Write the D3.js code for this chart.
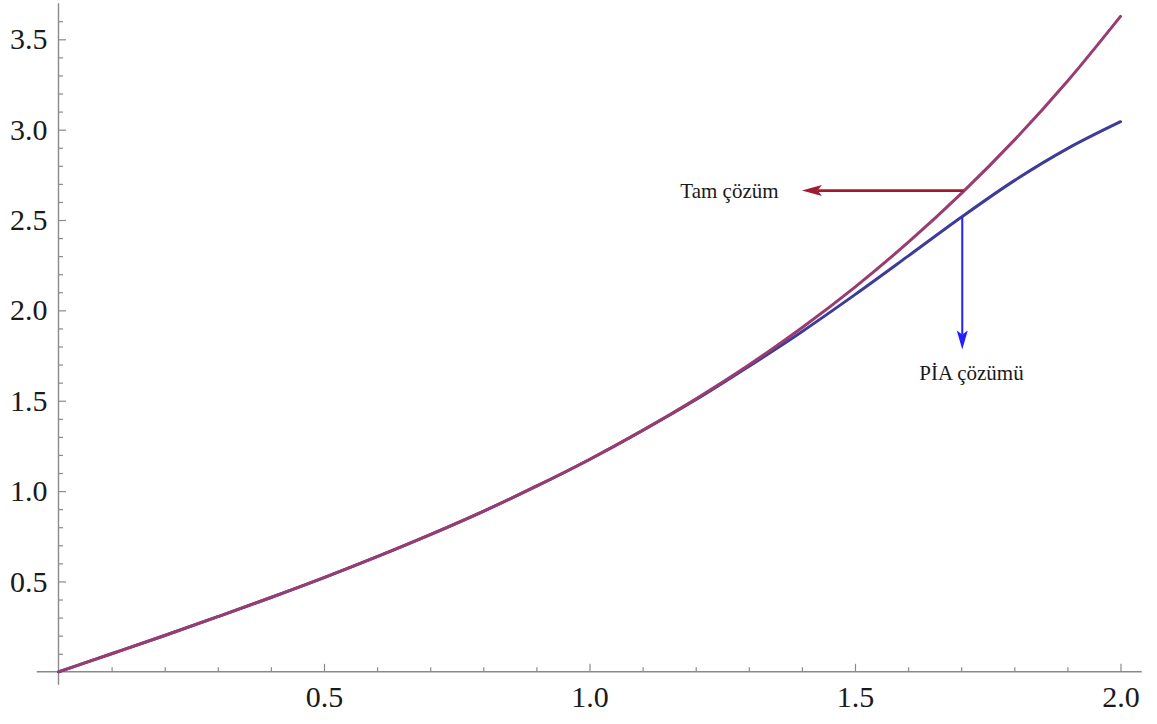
<!DOCTYPE html>
<html>
<head>
<meta charset="utf-8">
<script src="https://cdn.jsdelivr.net/npm/d3@7"></script>
<style>
  html, body { margin: 0; padding: 0; background: #fff; }
  svg { display: block; }
  text { font-family: "Liberation Serif", "Times New Roman", serif; }
</style>
</head>
<body>
<svg id="chart" width="1157" height="724"></svg>
<script>
// ---- data ----
const xValues   = [0, 0.1, 0.2, 0.3, 0.4, 0.5, 0.6, 0.7, 0.8, 0.9, 1.0, 1.1, 1.2, 1.3, 1.4, 1.5, 1.6, 1.7, 1.8, 1.9, 2.0];
const tamValues = [0, 0.100, 0.201, 0.305, 0.411, 0.521, 0.637, 0.759, 0.888, 1.027, 1.175, 1.336, 1.510, 1.698, 1.904, 2.129, 2.376, 2.646, 2.942, 3.268, 3.627];
const piaValues = [0, 0.100, 0.201, 0.305, 0.411, 0.521, 0.637, 0.759, 0.888, 1.027, 1.175, 1.335, 1.505, 1.690, 1.882, 2.087, 2.300, 2.515, 2.718, 2.895, 3.044];
const xMajorTicks = [0.5, 1.0, 1.5, 2.0];
const yMajorTicks = [0.5, 1.0, 1.5, 2.0, 2.5, 3.0, 3.5];
const xMinorTicks = [0.1, 0.2, 0.3, 0.4, 0.6, 0.7, 0.8, 0.9, 1.1, 1.2, 1.3, 1.4, 1.6, 1.7, 1.8, 1.9];
const yMinorTicks = [0.1, 0.2, 0.3, 0.4, 0.6, 0.7, 0.8, 0.9, 1.1, 1.2, 1.3, 1.4, 1.6, 1.7, 1.8, 1.9, 2.1, 2.2, 2.3, 2.4, 2.6, 2.7, 2.8, 2.9, 3.1, 3.2, 3.3, 3.4, 3.6];
const xAxisExtent = [-0.041, 2.04];
const yAxisExtent = [-0.072, 3.70];
// annotations: [label, arrow start x, start y, arrow tip x, tip y, label x, label y]
const tamLabel = ["Tam çözüm", 1.705, 2.663, 1.400, 2.663, 1.171, 2.621];
const piaLabel = ["PİA çözümü", 1.702, 2.516, 1.702, 1.784, 1.621, 1.615];

// ---- scales ----
const x = d3.scaleLinear().domain([0, 2]).range([58.5, 1120.5]);
const y = d3.scaleLinear().domain([0, 3.5]).range([671.8, 39.3]);

const svg = d3.select("#chart");
svg.append("rect").attr("width", 1157).attr("height", 724).attr("fill", "#fff");

const axisColor = "#8a8a8a";

// axis lines
svg.append("line")
  .attr("x1", x(xAxisExtent[0])).attr("x2", x(xAxisExtent[1]))
  .attr("y1", y(0)).attr("y2", y(0))
  .attr("stroke", axisColor).attr("stroke-width", 1.4);
svg.append("line")
  .attr("x1", x(0)).attr("x2", x(0))
  .attr("y1", y(yAxisExtent[0])).attr("y2", y(yAxisExtent[1]))
  .attr("stroke", axisColor).attr("stroke-width", 1.4);

// x axis (ticks pointing up)
const gxMinor = svg.append("g").attr("transform", `translate(0,${y(0)})`)
  .call(d3.axisBottom(x).tickValues(xMinorTicks).tickSize(-4.5).tickFormat(""));
const gxMajor = svg.append("g").attr("transform", `translate(0,${y(0)})`)
  .call(d3.axisBottom(x).tickValues(xMajorTicks).tickSize(-8).tickPadding(14).tickFormat(d3.format(".1f")));
// y axis (ticks pointing right)
const gyMinor = svg.append("g").attr("transform", `translate(${x(0)},0)`)
  .call(d3.axisLeft(y).tickValues(yMinorTicks).tickSize(-4.5).tickFormat(""));
const gyMajor = svg.append("g").attr("transform", `translate(${x(0)},0)`)
  .call(d3.axisLeft(y).tickValues(yMajorTicks).tickSize(-7.5).tickPadding(11).tickFormat(d3.format(".1f")));

[gxMinor, gxMajor, gyMinor, gyMajor].forEach(g => {
  g.select(".domain").remove();
  g.selectAll(".tick line").attr("stroke", axisColor).attr("stroke-width", 1.2);
  g.selectAll(".tick text")
    .attr("fill", "#1a1a1a")
    .style("font-family", '"Liberation Serif", "Times New Roman", serif')
    .style("font-size", "30px");
});
gxMajor.selectAll(".tick text").attr("dy", "0.71em");

// ---- curves ----
const line = d3.line().x(d => x(d[0])).y(d => y(d[1])).curve(d3.curveCatmullRom.alpha(0.5));
const piaData = xValues.map((v, i) => [v, piaValues[i]]);
const tamData = xValues.map((v, i) => [v, tamValues[i]]);

svg.append("path").datum(piaData).attr("d", line)
  .attr("fill", "none").attr("stroke", "#3d3d99").attr("stroke-width", 3).attr("stroke-linecap", "round");
svg.append("path").datum(tamData).attr("d", line)
  .attr("fill", "none").attr("stroke", "#993d71").attr("stroke-width", 3).attr("stroke-linecap", "round");

// ---- annotations ----
function arrow(spec, color, width, headLen, headHalf) {
  const [label, sx, sy, tx, ty, lx, ly] = spec;
  const x1 = x(sx), y1 = y(sy), x2 = x(tx), y2 = y(ty);
  const ang = Math.atan2(y2 - y1, x2 - x1);
  const bx = x2 - headLen * Math.cos(ang), by = y2 - headLen * Math.sin(ang);
  const nx = -Math.sin(ang), ny = Math.cos(ang);
  const ix = x2 - headLen * 0.78 * Math.cos(ang), iy = y2 - headLen * 0.78 * Math.sin(ang);
  svg.append("line")
    .attr("x1", x1).attr("y1", y1).attr("x2", ix).attr("y2", iy)
    .attr("stroke", color).attr("stroke-width", width);
  svg.append("path")
    .attr("d", `M${x2},${y2} L${bx + nx * headHalf},${by + ny * headHalf} L${ix},${iy} L${bx - nx * headHalf},${by - ny * headHalf} Z`)
    .attr("fill", color);
  svg.append("text")
    .attr("x", x(lx)).attr("y", y(ly))
    .attr("fill", "#1a1a1a")
    .style("font-size", "21px")
    .text(label);
}
arrow(tamLabel, "#a01a30", 2.8, 20, 5.5);
arrow(piaLabel, "#2222ff", 2.0, 19, 5.5);
</script>
</body>
</html>
